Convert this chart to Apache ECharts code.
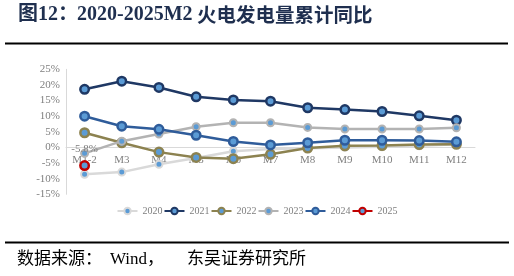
<!DOCTYPE html>
<html><head><meta charset="utf-8">
<script src="https://cdn.jsdelivr.net/npm/echarts@6/dist/echarts.min.js"></script>
<style>html,body{margin:0;padding:0;background:#fff}#c{width:514px;height:276px}</style>
</head><body><div id="c"></div>
<script>
var categories = ['M1-2','M3','M4','M5','M6','M7','M8','M9','M10','M11','M12'];
var yearNames = ['2020','2021','2022','2023','2024','2025'];
var s2020 = [-8.6,-7.9,-5.4,-3.4,-1.2,-0.5,-0.3,0.0,0.2,0.5,1.0];
var s2021 = [18.6,21.2,19.2,16.2,15.2,14.8,12.7,12.1,11.5,10.1,8.7];
var s2022 = [4.7,1.5,-1.5,-3.2,-3.6,-2.2,-0.2,0.5,0.6,0.9,1.0];
var s2023 = [-1.9,2.0,4.3,6.6,7.9,7.9,6.4,5.9,5.9,5.9,6.3];
var s2024 = [10.0,6.8,5.8,3.9,1.9,0.8,1.5,2.3,2.3,2.2,1.8];
var s2025 = [-5.8];
var yTicks = {min:-15, max:25, interval:5};

var colors = ['#d9d9d9','#1f3864','#8c8250','#b3b3b3','#2f5c9a','#c00000'];
var dataAll = [s2020,s2021,s2022,s2023,s2024,s2025];
var serif = '"Liberation Serif","Times New Roman",serif';

var series = dataAll.map(function(d,i){
  var s = {
    name: yearNames[i], type:'line', data:d, z: 2+i,
    symbol:'circle', symbolSize: (i===0||i===3)?7:8.5,
    lineStyle:{color:colors[i], width:2.5},
    itemStyle:{color:'#5b9bd5', borderColor:colors[i], borderWidth: (i===0||i===3)?2:2.5},
    emphasis:{disabled:true}, animation:false
  };
  if (i===5) {
    s.label = {show:true, position:'top', distance:5, formatter:function(p){return p.value.toFixed(1)+'%';},
      color:'#7f7f7f', fontFamily:serif, fontSize:11};
  }
  return s;
});

var chart = echarts.init(document.getElementById('c'));
chart.setOption({
  animation:false,
  grid:{left:66, right:39, top:69.3, bottom:81.7},
  legend:{data:yearNames, top:201, left:'center', itemWidth:20, itemHeight:8, itemGap:1,
    textStyle:{color:'#7f7f7f', fontFamily:serif, fontSize:10}},
  xAxis:{type:'category', data:categories, boundaryGap:true, offset:-46.9,
    axisLine:{onZero:false, lineStyle:{color:'#d9d9d9', width:1}},
    axisTick:{show:false},
    axisLabel:{color:'#7f7f7f', fontFamily:serif, fontSize:11, margin:7}},
  yAxis:{type:'value', min:yTicks.min, max:yTicks.max, interval:yTicks.interval,
    axisLine:{show:true, lineStyle:{color:'#d9d9d9'}},
    axisTick:{show:false}, splitLine:{show:false},
    axisLabel:{color:'#7f7f7f', fontFamily:serif, fontSize:11, margin:6, formatter:'{value}%'}},
  series: series,
  graphic:[
    {type:'text', left:18, top:5, style:{text:'图12：', fill:'#1f2f4f',
      font:'bold 20px "Liberation Serif","Noto Sans CJK SC",serif'}},
    {type:'text', left:77, top:5, style:{text:'2020-2025M2', fill:'#1f2f4f',
      font:'bold 20px "Liberation Serif","Noto Sans CJK SC",serif'}},
    {type:'text', left:197, top:5, style:{text:'火电发电量累计同比', fill:'#1f2f4f',
      font:'bold 19.5px "Noto Sans CJK SC",serif'}},
    {type:'rect', shape:{x:5, y:42.5, width:503, height:2}, style:{fill:'#000'}},
    {type:'rect', shape:{x:5, y:241.5, width:504, height:2}, style:{fill:'#000'}},
    {type:'text', left:17, top:251, style:{text:'数据来源：', fill:'#000',
      font:'17px "Liberation Serif","Noto Sans CJK SC",serif'}},
    {type:'text', left:110, top:251, style:{text:'Wind，', fill:'#000',
      font:'17px "Liberation Serif","Noto Sans CJK SC",serif'}},
    {type:'text', left:187, top:251, style:{text:'东吴证券研究所', fill:'#000',
      font:'17px "Liberation Serif","Noto Sans CJK SC",serif'}}
  ]
});
</script></body></html>
